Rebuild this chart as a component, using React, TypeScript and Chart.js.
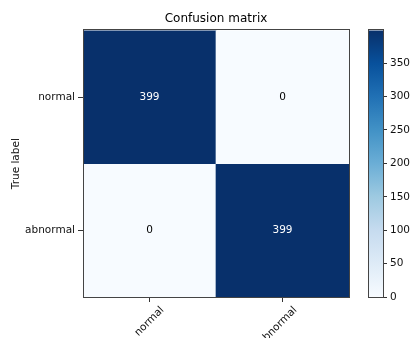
import React, { useEffect, useRef } from "react";
import { Chart, registerables } from "chart.js";

Chart.register(...registerables);

// ---- data ----
const predictedLabels = ["normal", "abnormal"];
const trueLabels = ["normal", "abnormal"];
const normalRow = [399, 0];
const abnormalRow = [0, 399];
const matrixRows = [normalRow, abnormalRow];
const colorbarMin = 0;
const colorbarMax = 399;
const colorbarTicks = [0, 50, 100, 150, 200, 250, 300, 350];
const chartTitle = "Confusion matrix";
const yAxisTitle = "True label";

// matplotlib "Blues" colormap stops
const BLUES = ["#f7fbff", "#deebf7", "#c6dbef", "#9ecae1", "#6baed6", "#4292c6", "#2171b5", "#08519c", "#08306b"];

function hexToRgb(h: string) {
  const n = parseInt(h.slice(1), 16);
  return [(n >> 16) & 255, (n >> 8) & 255, n & 255];
}
function blues(t: number) {
  const c = Math.max(0, Math.min(1, t)) * (BLUES.length - 1);
  const i = Math.min(Math.floor(c), BLUES.length - 2);
  const f = c - i;
  const a = hexToRgb(BLUES[i]);
  const b = hexToRgb(BLUES[i + 1]);
  const m = a.map((v, k) => Math.round(v + (b[k] - v) * f));
  return `rgb(${m[0]},${m[1]},${m[2]})`;
}

const FONT = "'DejaVu Sans', sans-serif";
const TICK_SIZE = 10.5;
const AREA_TOP = 30.4;
const AREA_BOTTOM_GAP = 41;
const AREA_LEFT = 83;
const AREA_RIGHT_GAP = 62;

export default function App() {
  const mainRef = useRef<HTMLCanvasElement>(null);
  const barRef = useRef<HTMLCanvasElement>(null);

  useEffect(() => {
    const cellText = {
      id: "cellText",
      afterDatasetsDraw(chart: any) {
        const ctx = chart.ctx;
        ctx.save();
        ctx.font = `${TICK_SIZE}px ${FONT}`;
        ctx.textAlign = "center";
        ctx.textBaseline = "middle";
        chart.data.datasets.forEach((ds: any, di: number) => {
          const meta = chart.getDatasetMeta(di);
          meta.data.forEach((el: any, i: number) => {
            const v = ds.values[i];
            const p = el.getProps(["x", "y", "base"], true);
            ctx.fillStyle = v > colorbarMax / 2 ? "#ffffff" : "#000000";
            ctx.fillText(String(v), p.x, (p.y + p.base) / 2);
          });
        });
        ctx.restore();
      },
    };
    const frame = {
      id: "frame",
      afterDraw(chart: any) {
        const a = chart.chartArea;
        const ctx = chart.ctx;
        ctx.save();
        ctx.strokeStyle = "#444";
        ctx.lineWidth = 1;
        ctx.strokeRect(Math.round(a.left) + 0.5, Math.round(a.top) - 0.5, Math.round(a.right - a.left), Math.round(a.bottom - a.top) + 1);
        ctx.restore();
      },
    };

    const main = new Chart(mainRef.current!, {
      type: "bar",
      data: {
        labels: predictedLabels,
        datasets: matrixRows.map((row, r) => ({
          label: trueLabels[r],
          data: row.map(() => [r, r + 1]),
          values: row,
          backgroundColor: row.map((v) => blues((v - colorbarMin) / (colorbarMax - colorbarMin))),
          borderWidth: 0,
          barPercentage: 1,
          categoryPercentage: 1,
        })) as any,
      },
      options: {
        animation: false,
        responsive: true,
        maintainAspectRatio: false,
        layout: { padding: { left: 10, right: AREA_RIGHT_GAP, top: 0, bottom: 0 } },
        plugins: {
          legend: { display: false },
          tooltip: { enabled: false },
          title: {
            display: true,
            fullSize: false,
            text: chartTitle,
            color: "#000",
            font: { family: FONT, size: 12, weight: "normal" as any },
            padding: { top: 12, bottom: 4 },
          },
        },
        scales: {
          x: {
            type: "category",
            stacked: true,
            offset: true,
            grid: { display: true, drawOnChartArea: false, offset: false, tickLength: 5, color: "#333" },
            border: { display: true, color: "#444" },
            ticks: {
              color: "#111",
              font: { family: FONT, size: TICK_SIZE },
              minRotation: 45,
              maxRotation: 45,
              labelOffset: 13,
              padding: 2,
            },
            afterFit: (s: any) => {
              s.height = AREA_BOTTOM_GAP;
            },
          },
          y: {
            type: "linear",
            stacked: false,
            min: 0,
            max: trueLabels.length,
            reverse: true,
            grid: { display: true, drawOnChartArea: false, tickLength: 5, color: "#333" },
            border: { display: true, color: "#444" },
            afterBuildTicks: (s: any) => {
              s.ticks = trueLabels.map((_, i) => ({ value: i + 0.5 }));
            },
            ticks: {
              color: "#111",
              font: { family: FONT, size: TICK_SIZE },
              padding: 3,
              callback: (v: any) => trueLabels[Math.round(Number(v) - 0.5)],
            },
            title: {
              display: true,
              text: yAxisTitle,
              color: "#111",
              font: { family: FONT, size: TICK_SIZE },
              padding: 0,
            },
            afterFit: (s: any) => {
              s.width = AREA_LEFT - 10;
            },
          },
        },
      },
      plugins: [cellText, frame],
    });

    const barFrame = {
      id: "barFrame",
      afterDraw(chart: any) {
        const a = chart.chartArea;
        const ctx = chart.ctx;
        ctx.save();
        ctx.strokeStyle = "#444";
        ctx.lineWidth = 1;
        ctx.strokeRect(Math.round(a.left) + 0.5, Math.round(a.top) - 0.5, Math.round(a.right - a.left), Math.round(a.bottom - a.top) + 1);
        ctx.restore();
      },
    };

    const bar = new Chart(barRef.current!, {
      type: "bar",
      data: {
        labels: [""],
        datasets: [
          {
            data: [[colorbarMin, colorbarMax]] as any,
            backgroundColor: (c: any) => {
              const chart = c.chart;
              const a = chart.chartArea;
              if (!a) return BLUES[BLUES.length - 1];
              const ys = chart.scales.y;
              const g = chart.ctx.createLinearGradient(0, ys.getPixelForValue(colorbarMin), 0, ys.getPixelForValue(colorbarMax));
              BLUES.forEach((col, i) => g.addColorStop(i / (BLUES.length - 1), col));
              return g;
            },
            borderWidth: 0,
            barPercentage: 1,
            categoryPercentage: 1,
          },
        ],
      },
      options: {
        animation: false,
        responsive: true,
        maintainAspectRatio: false,
        layout: { padding: { left: 368, right: 0, top: AREA_TOP, bottom: AREA_BOTTOM_GAP } },
        plugins: { legend: { display: false }, tooltip: { enabled: false }, title: { display: false } },
        scales: {
          x: { display: false },
          y: {
            position: "right",
            min: colorbarMin,
            max: colorbarMax,
            grid: { display: true, drawOnChartArea: false, tickLength: 4, color: "#333" },
            border: { display: true, color: "#444" },
            afterBuildTicks: (s: any) => {
              s.ticks = colorbarTicks.map((v) => ({ value: v }));
            },
            ticks: {
              color: "#111",
              font: { family: FONT, size: TICK_SIZE },
              padding: 3,
            },
            afterFit: (s: any) => {
              s.width = 411 - 383;
            },
          },
        },
      },
      plugins: [barFrame],
    });

    return () => {
      main.destroy();
      bar.destroy();
    };
  }, []);

  const box: React.CSSProperties = { position: "absolute", left: 0, top: 0, width: 411, height: 338 };
  return (
    <div style={{ position: "fixed", left: 0, top: 0, width: 411, height: 338, background: "#fff" }}>
      <div style={box}>
        <canvas ref={mainRef} />
      </div>
      <div style={box}>
        <canvas ref={barRef} />
      </div>
    </div>
  );
}
